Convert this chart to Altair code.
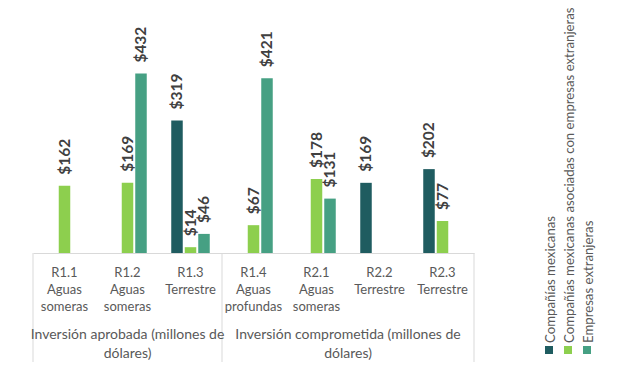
import altair as alt
import pandas as pd

categories = ["R1.1 Aguas someras", "R1.2 Aguas someras", "R1.3 Terrestre",
              "R1.4 Aguas profundas", "R2.1 Aguas someras", "R2.2 Terrestre", "R2.3 Terrestre"]
series = ["Compañías mexicanas",
          "Compañías mexicanas asociadas con empresas extranjeras",
          "Empresas extranjeras"]
mexicanas = [None, None, 319, None, None, 169, 202]
asociadas = [162, 169, 14, 67, 178, None, 77]
extranjeras = [None, 432, 46, 421, 131, None, None]
colors = ["#1F5C60", "#8DCF4E", "#46A083"]
group_labels = ["Inversión aprobada (millones de\ndólares)",
                "Inversión comprometida (millones de\ndólares)"]
group_sizes = [3, 4]

FONT = "Lato"
W, H = 441, 245

rows = []
for s, vals in zip(series, [mexicanas, asociadas, extranjeras]):
    for c, v in zip(categories, vals):
        if v is not None:
            rows.append({"cat": c, "series": s, "value": v})
df = pd.DataFrame(rows)

xaxis = alt.Axis(title=None, labelAngle=0, ticks=False, domainColor="#D9D9D9",
                 labelExpr="split(datum.label, ' ')", labelFont=FONT,
                 labelFontSize=13, labelLineHeight=17, labelColor="#595959",
                 labelPadding=13, labelBaseline="top")
xscale = alt.Scale(domain=categories, paddingInner=0, paddingOuter=0)
xcat = alt.X("cat:N", scale=xscale, axis=xaxis)
xoff = alt.XOffset("series:N", scale=alt.Scale(domain=series, paddingInner=0.148, paddingOuter=0.907))
yval = alt.Y("value:Q", scale=alt.Scale(domain=[0, 590]), axis=None)
color = alt.Color("series:N", scale=alt.Scale(domain=series, range=colors), legend=None)

base = alt.Chart(df)
bars = base.mark_bar().encode(x=xcat, xOffset=xoff, y=yval, color=color)
labels = base.mark_text(angle=270, align="left", baseline="middle", dx=11, font=FONT,
                        fontSize=15.5, fontWeight="bold", color="#404040").encode(
    x=xcat, xOffset=xoff, y=yval, text=alt.Text("value:Q", format="$,.0f"))

def xpos(bp):
    return alt.X("cat:N", bandPosition=bp, scale=xscale, axis=xaxis)

# group boundaries
starts = [categories[0], categories[group_sizes[0]]]
rules_start = alt.Chart(pd.DataFrame({"cat": starts})).mark_rule(color="#D9D9D9").encode(
    x=xpos(0), y=alt.value(H), y2=alt.value(H + 109))
rules_end = alt.Chart(pd.DataFrame({"cat": [categories[-1]]})).mark_rule(color="#D9D9D9").encode(
    x=xpos(1), y=alt.value(H), y2=alt.value(H + 109))

gtext = dict(align="center", baseline="top", lineBreak="\n", font=FONT, fontSize=14,
             lineHeight=18.5, color="#595959")
g1 = alt.Chart(pd.DataFrame({"cat": [categories[1]], "t": [group_labels[0]]})).mark_text(**gtext).encode(
    x=xpos(0.5), y=alt.value(H + 75), text="t:N")
g2 = alt.Chart(pd.DataFrame({"cat": [categories[5]], "t": [group_labels[1]]})).mark_text(**gtext).encode(
    x=xpos(0), y=alt.value(H + 75), text="t:N")

main = alt.layer(bars, labels, rules_start, rules_end, g1, g2)

leg_df = pd.DataFrame({"series": series})
lx = alt.X("series:N", scale=alt.Scale(type="point", domain=series, range=[516, 554], padding=0), axis=None)
leg_sq = alt.Chart(leg_df).mark_square(size=64, opacity=1).encode(
    x=lx, y=alt.value(H + 97), color=alt.Color("series:N", scale=alt.Scale(domain=series, range=colors), legend=None))
leg_tx = alt.Chart(leg_df).mark_text(angle=270, align="left", baseline="middle", dy=2, font=FONT,
                                     fontSize=13.2, color="#595959").encode(
    x=lx, y=alt.value(H + 90), text="series:N")
legend = alt.layer(leg_sq, leg_tx)

chart = alt.layer(main, legend).resolve_scale(x="independent").properties(
    width=W, height=H,
    autosize=alt.AutoSizeParams(type="none"),
    padding={"left": 25, "top": 0, "right": 150, "bottom": 120},
).configure_view(stroke=None)

chart.save("out.html", embed_options={"renderer": "svg", "actions": False})
